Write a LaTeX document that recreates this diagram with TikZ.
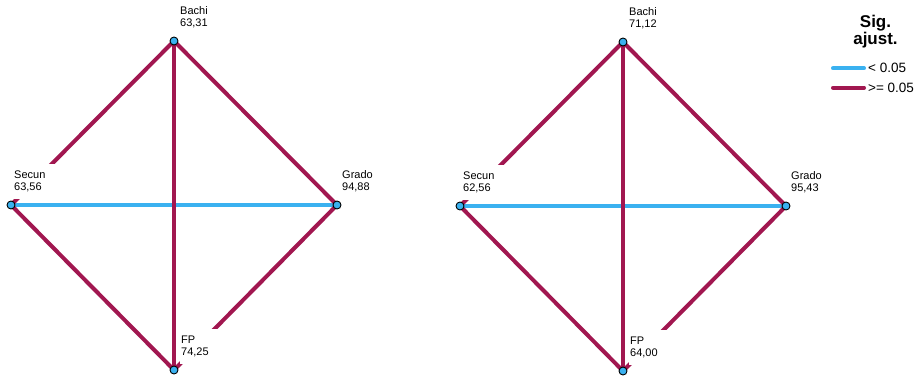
\documentclass[tikz,border=0pt]{standalone}
\usepackage{fontspec}
\setmainfont{Liberation Sans}
\usepackage{tikz}
\usetikzlibrary{positioning,backgrounds}

\definecolor{sigblue}{RGB}{58,177,240}
\definecolor{nsigred}{RGB}{161,23,80}

\tikzset{
  vtx/.style={circle,draw=black,line width=0.9pt,fill=sigblue,inner sep=0pt,minimum size=8pt},
  vlbl/.style={fill=white,inner xsep=1pt,inner ysep=7pt,text width=40pt,align=left,
    font=\fontsize{11}{12}\selectfont},
  esig/.style={sigblue,line width=3.5pt},
  ensig/.style={nsigred,line width=4pt},
  kline/.style={line width=4pt,line cap=round},
  ktxt/.style={inner sep=0pt,font=\fontsize{13.5}{15}\selectfont},
}

\begin{document}
\begin{tikzpicture}[x=1pt,y=-1pt]
\useasboundingbox (0,0) rectangle (921,378);
% two pairwise-comparison diamonds (left / right)
\foreach \g/\dx/\dy/\vb/\vs/\vg/\vf in {l/0/0/{63,31}/{63,56}/{94,88}/{74,25},
                                       r/449/-1/{71,12}/{62,56}/{95,43}/{64,00}} {
  \begin{scope}[xshift=\dx, yshift=\dy, name prefix=\g-]
    \node[vtx] (b) at (174,41) {};
    \node[vtx] (s) at (11,205) {};
    \node[vtx] (g) at (337,205) {};
    \node[vtx] (f) at (174,370) {};
    % labels (white boxes hide parts of the edges)
    \node[vlbl, above right=6pt and 5pt of b.center] (bt) {Bachi\\\vb};
    \node[vlbl, above right=6pt and 2pt of s.center] (st) {Secun\\\vs};
    \node[vlbl, above right=6pt and 4pt of g.center] (gt) {Grado\\\vg};
    \node[vlbl, above right=6pt and 6pt of f.center] (ft) {FP\\\vf};
    % edges
    \begin{scope}[on background layer]
      \draw[esig] (s.center) -- (g.center);
      \draw[ensig] (b.center) -- (s.center);
      \draw[ensig] (b.center) -- (g.center);
      \draw[ensig] (b.center) -- (f.center);
      \draw[ensig] (s.center) -- (f.center);
      \draw[ensig] (g.center) -- (f.center);
    \end{scope}
  \end{scope}
}
% legend
\node[anchor=north, inner sep=0pt, align=center, font=\bfseries\fontsize{17}{16.5}\selectfont]
  (legt) at (875.5,15) {Sig.\\ajust.};
\coordinate (k1a) at (833,68.3);
\coordinate (k1b) at (864,68.3);
\coordinate (k2a) at (833,87.7);
\coordinate (k2b) at (864,87.7);
\draw[kline, sigblue] (k1a) -- (k1b);
\draw[kline, nsigred] (k2a) -- (k2b);
\node[ktxt, right=4pt of k1b] (k1t) {< 0.05};
\node[ktxt, right=4pt of k2b] (k2t) {>= 0.05};
\end{tikzpicture}
\end{document}
